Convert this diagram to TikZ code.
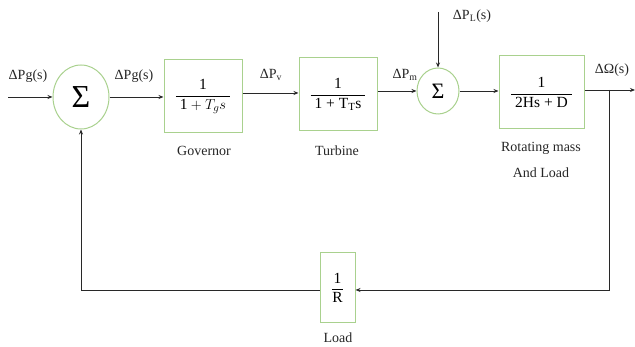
\documentclass[tikz,border=0pt]{standalone}
\usepackage{amsmath}
\usepackage{fontspec}
\setmainfont{Liberation Serif}
\usetikzlibrary{arrows.meta,shapes.geometric}
\definecolor{boxgreen}{RGB}{169,209,142}
\definecolor{linegray}{RGB}{40,40,40}
\begin{document}
\begin{tikzpicture}[x=1pt,y=-1pt,line width=0.9pt,>={Stealth[length=5pt,width=4pt]}]
\useasboundingbox (0,0) rectangle (635,347);
\tikzset{
  blk/.style={draw=boxgreen,line width=1pt,fill=white,inner sep=0pt},
  lbl/.style={font=\fontsize{14}{16}\selectfont,inner sep=0pt,text=black!85},
  wire/.style={draw=linegray}
}
% blocks
\node[blk,minimum width=56pt,minimum height=64pt,shape=ellipse] (s1) at (81,97) {\fontsize{32}{32}\selectfont Σ};
\node[blk,minimum width=78pt,minimum height=73pt] (gov) at (203,96.5) {\fontsize{15.5}{18}\selectfont$\dfrac{\text{1}}{\;\text{1} + T_g s\;}$};
\node[blk,minimum width=78pt,minimum height=73pt] (tur) at (338,94.5) {\fontsize{15.5}{18}\selectfont$\dfrac{\text{1}}{\;\text{1 + T\textsubscript{T}s}\;}$};
\node[blk,minimum width=42pt,minimum height=46pt,shape=ellipse] (s2) at (438,91) {\fontsize{22}{22}\selectfont Σ};
\node[blk,minimum width=85pt,minimum height=73pt] (rot) at (541.5,92.5) {\fontsize{15.5}{18}\selectfont$\dfrac{\text{1}}{\;\text{2Hs + D}\;}$};
\node[blk,minimum width=35pt,minimum height=70pt] (R) at (337.5,288) {\fontsize{15.5}{18}\selectfont$\dfrac{\text{1}}{\text{R}}$};
% captions
\node[lbl] (cg) at (204,151) {Governor};
\node[lbl] (ct) at (337,151) {Turbine};
\node[lbl] (cr1) at (541,148) {Rotating mass};
\node[lbl] (cr2) at (541,173) {And Load};
\node[lbl] (cl) at (338,338) {Load};
% signal labels
\node[lbl] (l1) at (28,76) {ΔPg(s)};
\node[lbl] (l2) at (134,76) {ΔPg(s)};
\node[lbl] (l3) at (271,75) {ΔP\textsubscript{v}};
\node[lbl] (l4) at (405,75) {ΔP\textsubscript{m}};
\node[lbl] (l5) at (472,16) {ΔP\textsubscript{L}(s)};
\node[lbl] (l6) at (612,70) {ΔΩ(s)};
% coordinates
\coordinate (in) at (8,97);
\coordinate (pl) at (438,12);
\coordinate (br) at (609,90);
\coordinate (out) at (635,90);
\coordinate (br2) at (609,290);
\coordinate (fb) at (81,290);
% connectors
\draw[wire,->] (in) -- (s1.west);
\draw[wire,->] (s1.east) -- (gov.west |- s1.east);
\draw[wire,->] (gov.east |- 0,93) -- (tur.west |- 0,93);
\draw[wire,->] (tur.east |- s2.west) -- (s2.west);
\draw[wire,->] (pl) -- (s2.north);
\draw[wire,->] (s2.east) -- (rot.west |- s2.east);
\draw[wire,->] (rot.east |- out) -- (out);
\draw[wire,->] (br) -- (br2) -- (R.east |- br2);
\draw[wire,->] (R.west |- fb) -- (fb) -- (s1.south);
\end{tikzpicture}
\end{document}
